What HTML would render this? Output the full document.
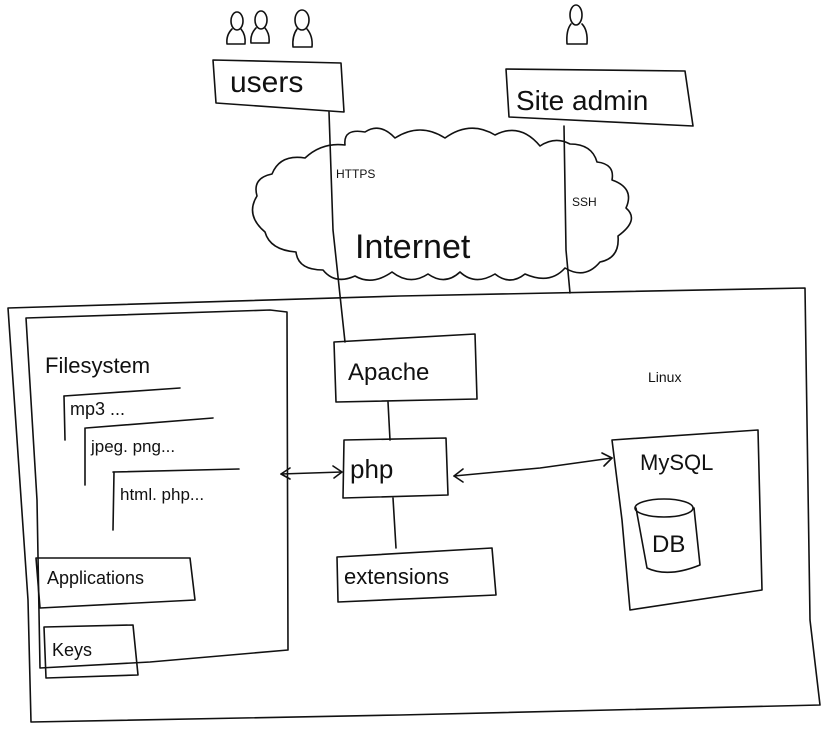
<!DOCTYPE html>
<html><head><meta charset="utf-8"><style>
html,body{margin:0;padding:0;background:#fff;}
svg{display:block;}
text{font-family:"Liberation Sans",sans-serif;fill:#111;}
</style></head><body>
<svg width="831" height="730" viewBox="0 0 831 730" xmlns="http://www.w3.org/2000/svg">
<g fill="none" stroke="#111" stroke-width="1.6" stroke-linecap="round" stroke-linejoin="round">
<!-- people -->
<ellipse cx="237" cy="21" rx="6" ry="9"/>
<path d="M232 29 Q226 35 227 44 L245 44 Q246 35 241 29"/>
<ellipse cx="261" cy="20" rx="6" ry="9"/>
<path d="M256 28 Q250 34 251 43 L269 43 Q270 34 265 28"/>
<ellipse cx="302" cy="20" rx="7" ry="10"/>
<path d="M297 29 Q292 36 293 47 L312 47 Q313 36 307 29"/>
<ellipse cx="576" cy="15" rx="6" ry="10"/>
<path d="M571 24 Q566 30 567 44 L587 44 Q588 30 582 24"/>
<!-- users box -->
<path d="M213 60 L341 63 L344 112 L216 103 Z"/>
<!-- site admin box -->
<path d="M506 69 L685 71 L693 126 L509 117 Z"/>
<!-- cloud -->
<path d="M345 145 Q343 128 365 132 Q380 122 395 138 Q420 122 445 138 Q470 120 495 135 Q520 122 540 146 Q555 136 570 144 Q592 144 597 162 Q615 164 612 180 Q635 188 626 208 Q640 220 618 236 Q620 258 600 262 Q585 280 565 268 Q550 285 525 274 Q510 286 495 274 Q475 286 460 272 Q445 286 428 274 Q410 286 392 272 Q372 286 355 276 Q335 285 323 270 Q298 270 296 252 Q270 250 265 232 Q245 215 257 196 Q252 178 272 174 Q280 154 305 158 Q322 142 345 145 Z"/>
<!-- lines from users/admin -->
<path d="M329 112 L333 230 L345 342"/>
<path d="M564 126 L566 250 L570 293"/>
<!-- Linux box -->
<path d="M8 308 L400 296 L805 288 L810 620 L820 705 L400 715 L31 722 L28 600 Z"/>
<!-- filesystem box -->
<path d="M26 318 L270 310 L287 312 L288 650 L150 662 L40 668 L37 500 Z"/>
<path d="M64 396 L180 388"/><path d="M64 396 L65 440"/>
<path d="M86 428 L213 418"/><path d="M85 428 L85 485"/>
<path d="M113 472 L239 469"/><path d="M114 472 L113 530"/>
<!-- applications -->
<path d="M36 558 L190 558 L195 600 L40 608 Z"/>
<!-- keys -->
<path d="M44 627 L133 625 L138 675 L46 678 Z"/>
<!-- apache -->
<path d="M334 342 L475 334 L477 399 L336 402 Z"/>
<path d="M388 402 L390 440"/>
<!-- php -->
<path d="M344 440 L446 438 L448 495 L343 498 Z"/>
<path d="M393 498 L396 548"/>
<!-- extensions -->
<path d="M337 557 L492 548 L496 595 L338 602 Z"/>
<!-- arrows -->
<path d="M281 474 L342 472"/>
<path d="M290 468 L281 474 L290 479"/>
<path d="M333 466 L342 472 L334 478"/>
<path d="M454 476 L540 468 L612 458"/>
<path d="M463 469 L454 476 L463 482"/>
<path d="M602 453 L612 458 L604 466"/>
<!-- mysql -->
<path d="M612 440 L758 430 L762 590 L630 610 L622 520 Z"/>
<!-- DB -->
<ellipse cx="664" cy="508" rx="29" ry="9"/>
<path d="M636 508 L647 568 Q668 578 700 565 L694 508"/>
</g>
<g>
<text x="230" y="92" font-size="30">users</text>
<text x="516" y="110" font-size="28">Site admin</text>
<text x="336" y="178" font-size="12">HTTPS</text>
<text x="572" y="206" font-size="12">SSH</text>
<text x="355" y="258" font-size="34">Internet</text>
<text x="45" y="373" font-size="22">Filesystem</text>
<text x="70" y="415" font-size="18">mp3 ...</text>
<text x="91" y="452" font-size="17">jpeg. png...</text>
<text x="120" y="500" font-size="17">html. php...</text>
<text x="47" y="584" font-size="18">Applications</text>
<text x="52" y="656" font-size="18">Keys</text>
<text x="348" y="380" font-size="24">Apache</text>
<text x="648" y="382" font-size="14">Linux</text>
<text x="350" y="478" font-size="26">php</text>
<text x="344" y="584" font-size="22">extensions</text>
<text x="640" y="470" font-size="22">MySQL</text>
<text x="652" y="552" font-size="24">DB</text>
</g>
</svg>
</body></html>
